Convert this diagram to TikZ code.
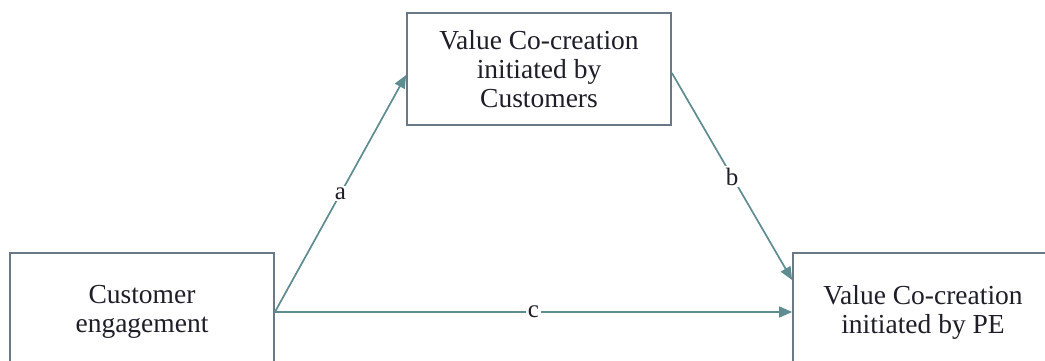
\documentclass[tikz,border=0pt]{standalone}
\usepackage{fontspec}
\setmainfont{Liberation Serif}
\usetikzlibrary{arrows.meta}
\definecolor{boxc}{HTML}{6B7888}
\definecolor{arrc}{HTML}{5E8C90}
\definecolor{txtc}{HTML}{1E1E28}
\begin{document}
\begin{tikzpicture}[x=1pt,y=-1pt,
  box/.style={draw=boxc,line width=1.8pt,fill=white,align=center,text=txtc,
    font=\fontsize{27.5}{29}\selectfont,inner sep=0pt},
  conn/.style={draw=arrc,line width=1.7pt,-{Triangle[length=13pt,width=11pt]}},
  lab/.style={fill=white,text=txtc,font=\fontsize{25}{26}\selectfont,inner sep=2pt}]
\useasboundingbox (0,0) rectangle (1045,361);
\clip (0,0) rectangle (1045,361);
\node[box,minimum width=264pt,minimum height=118pt] (ce) at (142,312) {Customer\\engagement};
\node[box,minimum width=264pt,minimum height=112pt] (vc) at (539,69) {Value Co-creation\\initiated by\\Customers};
\node[box,minimum width=260pt,minimum height=118pt] (pe) at (923,312) {Value Co-creation\\initiated by PE};
\draw[conn] (ce.east) -- node[lab]{a} ([yshift=-6pt]vc.west);
\draw[conn] ([yshift=-4pt]vc.east) -- node[lab]{b} ([yshift=32pt]pe.west);
\draw[conn] (ce.east) -- node[lab]{c} (pe.west);
\end{tikzpicture}
\end{document}
